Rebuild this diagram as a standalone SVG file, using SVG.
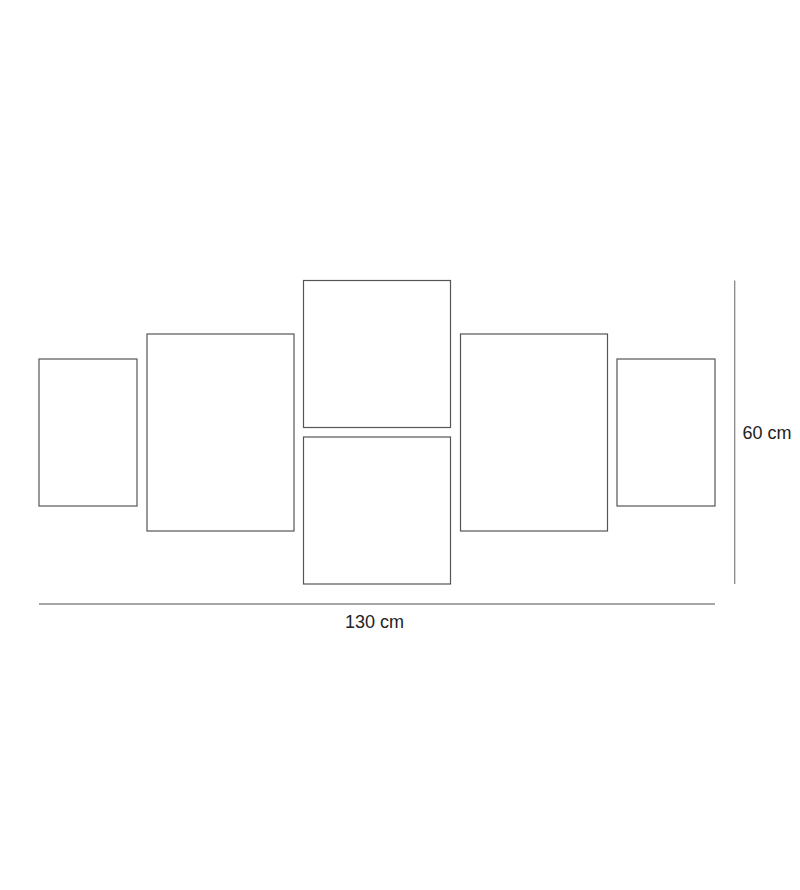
<svg xmlns="http://www.w3.org/2000/svg" width="800" height="890" viewBox="0 0 800 890">
<style>
.panel{fill:none;stroke:#555;stroke-width:1.2}
.dim{stroke:#888;stroke-width:1.3;fill:none}
.lbl{font-family:"Liberation Sans",Arial,sans-serif;font-size:18px;fill:#222}
</style>
<rect width="800" height="890" fill="#fff"/>
<g id="panel1"><rect class="panel" x="39" y="359" width="98" height="147"/></g>
<g id="panel2"><rect class="panel" x="147" y="334" width="147" height="197"/></g>
<g id="panel3"><rect class="panel" x="303.5" y="280.5" width="147" height="147"/></g>
<g id="panel4"><rect class="panel" x="303.5" y="437" width="147" height="147"/></g>
<g id="panel5"><rect class="panel" x="460.5" y="334" width="147" height="197"/></g>
<g id="panel6"><rect class="panel" x="617" y="359" width="98" height="147"/></g>
<g id="dimensions">
<line class="dim" x1="39" y1="604" x2="715" y2="604"/>
<line class="dim" x1="734.7" y1="280.5" x2="734.7" y2="584"/>
</g>
<text class="lbl" x="345" y="628">130 cm</text>
<text class="lbl" x="742.5" y="438.5">60 cm</text>
</svg>
